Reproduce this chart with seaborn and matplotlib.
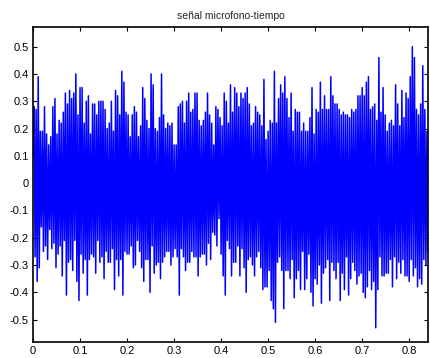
import numpy as np
import pandas as pd
import matplotlib
matplotlib.use("Agg")
import matplotlib.pyplot as plt
import seaborn as sns
from matplotlib.ticker import FuncFormatter

# Local maxima (peaks) and minima (troughs) of the signal, read left to right
peaks_left = [.28, .27, .39, .19, .19, .28, .18, .14, .17, .28, .31, .18, .23, .22, .26, .33, .29, .34,
              .31, .33, .40, .25, .35, .35, .22, .30, .32, .18, .29, .29, .25, .30, .30, .30, .27, .20,
              .22, .30, .19, .34, .32, .25, .41, .37, .26, .25, .17, .25, .28, .26, .17, .21, .35, .31,
              .23, .20, .40, .36, .20, .19, .24, .40, .25, .20, .22, .21, .22, .14, .14, .28, .29, .30,
              .22, .30, .33, .26, .27, .33, .33, .23, .21, .23, .26, .33, .25]
troughs_left = [-.27, -.36, -.31, -.16, -.25, -.23, -.28, -.17, -.24, -.22, -.31, -.26, -.23, -.34, -.21,
                -.41, -.29, -.28, -.32, -.21, -.36, -.43, -.26, -.33, -.28, -.41, -.28, -.26, -.27, -.33,
                -.21, -.29, -.27, -.35, -.25, -.29, -.29, -.24, -.39, -.28, -.34, -.28, -.41, -.25, -.26,
                -.26, -.23, -.31, -.30, -.21, -.25, -.31, -.36, -.28, -.28, -.40, -.23, -.33, -.30, -.29,
                -.35, -.29, -.27, -.25, -.25, -.30, -.27, -.24, -.27, -.41, -.24, -.27, -.32, -.29, -.29,
                -.25, -.27, -.27, -.34, -.27, -.26, -.26, -.30, -.22, -.28]
peaks_right = [.22, .14, .28, .27, .24, .21, .33, .30, .22, .36, .26, .35, .33, .28, .33, .31, .33, .35,
               .29, .21, .22, .28, .26, .25, .21, .38, .16, .19, .23, .22, .41, .22, .31, .36, .33, .39,
               .31, .24, .33, .19, .27, .26, .26, .19, .22, .19, .19, .24, .35, .18, .27, .26, .37, .27,
               .32, .27, .27, .39, .32, .29, .29, .27, .25, .26, .25, .25, .24, .27, .26, .27, .32, .32,
               .35, .32, .37, .39, .27, .28, .29, .23, .46, .26, .35, .25, .19, .22, .23, .21, .36, .29,
               .21, .34, .24, .33, .31, .39, .50, .46, .27, .25, .29, .43, .27, .19]
troughs_right = [-.18, -.19, -.23, -.13, -.26, -.34, -.41, -.21, -.24, -.34, -.29, -.29, -.23, -.34, -.24,
                 -.31, -.40, -.28, -.27, -.30, -.34, -.27, -.25, -.31, -.39, -.38, -.38, -.32, -.43, -.46,
                 -.51, -.29, -.27, -.32, -.46, -.32, -.32, -.35, -.28, -.42, -.35, -.32, -.39, -.25, -.39,
                 -.35, -.26, -.40, -.45, -.35, -.37, -.30, -.44, -.33, -.31, -.28, -.43, -.29, -.32, -.35,
                 -.29, -.43, -.33, -.39, -.27, -.41, -.35, -.29, -.32, -.37, -.34, -.33, -.40, -.42, -.38,
                 -.32, -.39, -.36, -.53, -.39, -.27, -.34, -.34, -.33, -.33, -.28, -.38, -.27, -.35, -.29,
                 -.33, -.28, -.34, -.34, -.36, -.28, -.34, -.31, -.38, -.35, -.37, -.28, -.30, -.25]

duration = 0.84
title = "señal microfono-tiempo"
xticks = [0, 0.1, 0.2, 0.3, 0.4, 0.5, 0.6, 0.7, 0.8]
yticks = [-0.5, -0.4, -0.3, -0.2, -0.1, 0, 0.1, 0.2, 0.3, 0.4, 0.5]

n_left = min(len(peaks_left), len(troughs_left))
n_right = min(len(peaks_right), len(troughs_right))
vals = []
for p, q in zip(peaks_left[:n_left], troughs_left[:n_left]):
    vals += [p, q]
for p, q in zip(peaks_right[:n_right], troughs_right[:n_right]):
    vals += [p, q]
vals = [0.10] + vals
t = np.linspace(0, duration, len(vals))
df = pd.DataFrame({"t": t, "v": vals})

sns.set_style("ticks")
plt.rcParams["font.family"] = ["Liberation Sans", "DejaVu Sans"]
plt.rcParams["axes.unicode_minus"] = False

fig = plt.figure(figsize=(4.30, 3.58), dpi=100)
ax = fig.add_axes([33/430, 16/358, 395/430, 315/358])
sns.lineplot(data=df, x="t", y="v", ax=ax, color=(0, 0, 1), lw=1.1,
             estimator=None, sort=False)
ax.set_xlim(0, duration)
ax.set_ylim(-0.582, 0.572)
ax.set_xticks(xticks)
ax.set_yticks(yticks)
fmt = FuncFormatter(lambda v, p: "%g" % round(v, 2))
ax.xaxis.set_major_formatter(fmt)
ax.yaxis.set_major_formatter(fmt)
ax.set_xlabel("")
ax.set_ylabel("")
ax.tick_params(direction="in", length=3, width=0.8, labelsize=8, colors="black",
               top=True, right=True, pad=3)
for s in ax.spines.values():
    s.set_visible(True)
    s.set_linewidth(1.2)
    s.set_color("black")
ax.set_title(title, fontsize=7.5, pad=6)
fig.savefig("out.png", dpi=100)
